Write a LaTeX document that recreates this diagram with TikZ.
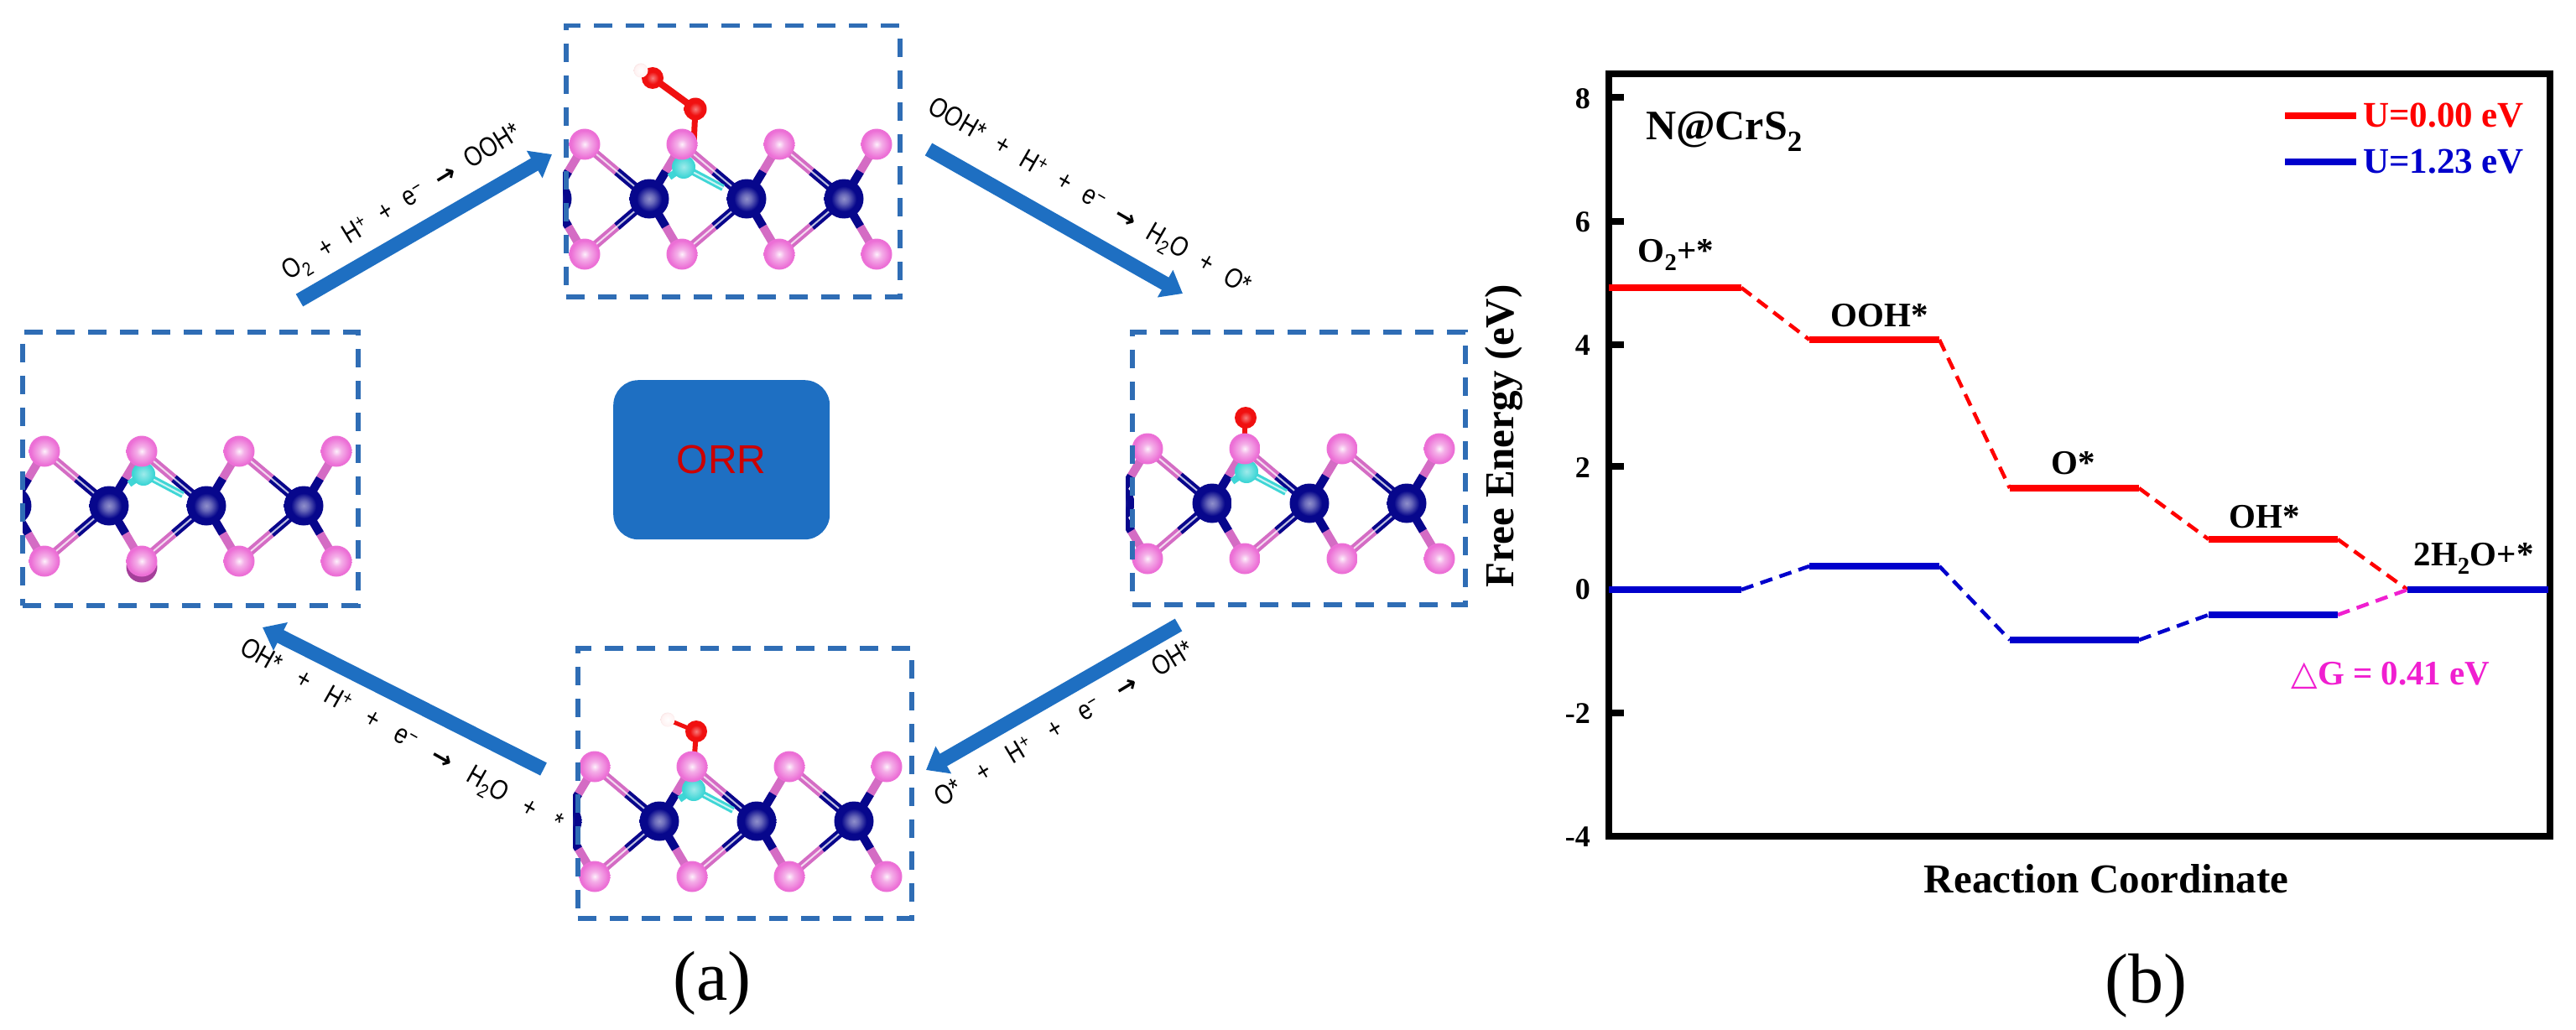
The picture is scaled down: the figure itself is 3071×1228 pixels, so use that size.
\documentclass[tikz,border=0pt]{standalone}
\usepackage{fontspec}
\setmainfont{Liberation Serif}
\newfontfamily\lsans{Liberation Sans}
\newfontfamily\lnarrow[FakeStretch=0.82]{Liberation Sans}
\newfontfamily\djv{DejaVu Sans}
\usetikzlibrary{arrows.meta,calc}
\definecolor{sMain}{HTML}{EC6FD6}
\definecolor{sEdge}{HTML}{8E2F86}
\definecolor{sBond}{HTML}{D46CC4}
\definecolor{crMain}{HTML}{07078C}
\definecolor{crEdge}{HTML}{03034A}
\definecolor{oMain}{HTML}{F01010}
\definecolor{nMain}{HTML}{3FD6D6}
\definecolor{boxBlue}{HTML}{2F6DB5}
\definecolor{arrBlue}{HTML}{1E6FC2}
\definecolor{lvlBlue}{HTML}{0000CC}
\definecolor{lvlMag}{HTML}{F01FD0}
\pgfdeclareradialshading{sball}{\pgfpoint{0bp}{0bp}}{color(0bp)=(white!90!sMain); color(8bp)=(white!45!sMain); color(22bp)=(sMain); color(40bp)=(sMain); color(46bp)=(sMain!70!sEdge); color(50bp)=(sEdge)}
\pgfdeclareradialshading{crball}{\pgfpoint{0bp}{0bp}}{color(0bp)=(white!55!crMain); color(6bp)=(white!40!crMain); color(16bp)=(crMain); color(44bp)=(crMain); color(50bp)=(crEdge)}
\pgfdeclareradialshading{oball}{\pgfpoint{0bp}{0bp}}{color(0bp)=(white!45!oMain); color(14bp)=(oMain); color(44bp)=(oMain); color(50bp)=(oMain!75!black)}
\pgfdeclareradialshading{nball}{\pgfpoint{0bp}{0bp}}{color(0bp)=(white!50!nMain); color(22bp)=(nMain); color(50bp)=(nMain!85!black)}
\pgfdeclareradialshading{hball}{\pgfpoint{0bp}{0bp}}{color(0bp)=(white); color(22bp)=(white!80!pink); color(42bp)=(pink!80!gray); color(50bp)=(brown!60!gray)}
\tikzset{
 sbond/.style={draw=sBond,line width=10pt},
 crbond/.style={draw=crMain,line width=10pt},
 stripe/.style={draw=white,line width=2pt,opacity=.75},
 boxdash/.style={draw=boxBlue,line width=5.5pt,dash pattern=on 22pt off 16pt,minimum width=#1},
 rarrow/.style={draw=arrBlue,line width=17pt,-{Triangle[width=36pt,length=24pt]}},
 rxn/.style={font=\lnarrow\fontsize{33}{35}\selectfont,inner sep=0pt},
 level/.style={line width=8pt},
 dashlvl/.style={line width=4.5pt,dash pattern=on 15pt off 9pt},
 ticklab/.style={font=\bfseries\fontsize{36}{38}\selectfont,inner sep=0pt,anchor=east},
 clab/.style={font=\bfseries\fontsize{41}{44}\selectfont,inner sep=0pt,anchor=base},
 leg/.style={font=\bfseries\fontsize{43}{46}\selectfont,inner sep=0pt,anchor=west},
 axlab/.style={font=\bfseries\fontsize{49}{52}\selectfont,inner sep=0pt},
 panel/.style={font=\fontsize{84}{88}\selectfont,inner sep=0pt},
}
\newcommand{\atomS}[2]{\shade[shading=sball] (#1,#2) circle[radius=18.5];}
\newcommand{\atomCr}[2]{\shade[shading=crball] (#1,#2) circle[radius=23.5];}
\newcommand{\atomO}[3]{\shade[shading=oball] (#1,#2) circle[radius=#3];}
\newcommand{\bondLong}[2]{% Cr x, S x
 \draw[sbond] (#1,237) -- (#2,172); \draw[crbond] (#1,237) -- ($(#1,237)!.5!(#2,172)$);
 \draw[stripe] ($(#1,237)!.2!(#2,172)$) -- ($(#1,237)!.85!(#2,172)$);
 \draw[sbond] (#1,237) -- (#2,303); \draw[crbond] (#1,237) -- ($(#1,237)!.5!(#2,303)$);
 \draw[stripe] ($(#1,237)!.2!(#2,303)$) -- ($(#1,237)!.85!(#2,303)$);}
\newcommand{\bondShort}[2]{%
 \draw[sbond] (#1,237) -- (#2,172); \draw[crbond] (#1,237) -- ($(#1,237)!.5!(#2,172)$);
 \draw[sbond] (#1,237) -- (#2,303); \draw[crbond] (#1,237) -- ($(#1,237)!.5!(#2,303)$);}
\newcommand{\crystal}[3]{% dx, dy, extra drawing
 \begin{scope}[shift={(#1,#2)}]
 \clip (671,140) rectangle (1068,345);
 \bondShort{658}{697}
 \bondLong{774}{697}\bondShort{774}{813}
 \bondLong{890}{813}\bondShort{890}{929}
 \bondLong{1006}{929}\bondShort{1006}{1045}
 \draw[draw=nMain,line width=8pt] (798,211) -- (815,199) -- (862,224);
 \draw[stripe] (824,204) -- (862,224);
 \shade[shading=nball] (815,199) circle[radius=14];
 \foreach \xx in {697,813,929,1045}{\atomS{\xx}{172}}
 #3
 \foreach \xx in {697,813,929,1045}{\atomS{\xx}{303}}
 \foreach \xx in {658,774,890,1006}{\atomCr{\xx}{237}}
 \end{scope}}
\newcommand{\rar}{{\djv\bfseries\fontsize{30}{32}\selectfont →}}
\begin{document}
\begin{tikzpicture}[x=1pt,y=-1pt]
\useasboundingbox (0,0) rectangle (3071,1228);
\fill[white] (0,0) rectangle (3071,1228);
% adsorbates and crystals
\draw[draw=oMain,line width=7pt] (829,130) -- (827,172);
\draw[draw=oMain,line width=8pt] (829,130) -- (777,92);
\crystal{0}{0}{}
\atomO{829}{130}{13.5}\atomO{778}{93}{13}
\shade[shading=hball] (764,84) circle[radius=8.5];
\crystal{-644}{366}{\fill[sEdge!75!sMain] (813,310) circle[radius=18.5];}
\draw[draw=oMain,line width=6pt] (1484,498) -- (1484,535);
\crystal{671}{363}{}
\atomO{1485}{498}{13}
\draw[draw=oMain,line width=6pt] (830,872) -- (827,914);
\draw[draw=oMain,line width=5pt] (830,872) -- (796,858);
\crystal{12}{742}{}
\atomO{830}{872}{13}
\shade[shading=hball] (796,858) circle[radius=8.5];
% dashed frames
\node[boxdash=398pt,minimum height=323pt,inner sep=0pt,anchor=north west] (boxTop) at (672,28) {};
\node[boxdash=400pt,minimum height=326pt,inner sep=0pt,anchor=north west] (boxLeft) at (24,393) {};
\node[boxdash=397pt,minimum height=325pt,inner sep=0pt,anchor=north west] (boxRight) at (1347,393) {};
\node[boxdash=398pt,minimum height=322pt,inner sep=0pt,anchor=north west] (boxBottom) at (686,770) {};
% centre
\node[fill=arrBlue,rounded corners=30pt,minimum width=258pt,minimum height=190pt,inner sep=0pt,anchor=north west,font=\lsans\fontsize{48}{50}\selectfont,text=red!80!black] (orr) at (731,453) {ORR};
% cycle arrows
\coordinate (a1s) at (357,358); \coordinate (a1e) at (658,184);
\coordinate (a2s) at (1107,178); \coordinate (a2e) at (1410,350);
\coordinate (a3s) at (1405,745); \coordinate (a3e) at (1104,918);
\coordinate (a4s) at (648,917); \coordinate (a4e) at (313,748);
\draw[rarrow] (a1s) -- (a1e);
\draw[rarrow] (a2s) -- (a2e);
\draw[rarrow] (a3s) -- (a3e);
\draw[rarrow] (a4s) -- (a4e);
\newcommand{\gapA}{\hspace{18pt}}
\newcommand{\gapB}{\hspace{19pt}}
\newcommand{\gapC}{\hspace{26pt}}
\newcommand{\gapD}{\hspace{24pt}}
\node[rxn,rotate=31.5] (l1) at (480,243) {O\textsubscript{2}\gapA+\gapA H\textsuperscript{+}\gapA+\gapA e\textsuperscript{−}\gapA\rar\gapA OOH*};
\node[rxn,rotate=-30] (l2) at (1298,236) {OOH*\gapB+\gapB H\textsuperscript{+}\gapB+\gapB e\textsuperscript{−}\gapB\rar\gapB H\textsubscript{2}O\gapB+\gapB O*};
\node[rxn,rotate=31] (l3) at (1268,862) {O*\gapC+\gapC H\textsuperscript{+}\gapC+\gapC e\textsuperscript{−}\gapC\rar\gapC OH*};
\node[rxn,rotate=-29.5] (l4) at (478,879) {OH*\gapD+\gapD H\textsuperscript{+}\gapD+\gapD e\textsuperscript{−}\gapD\rar\gapD H\textsubscript{2}O\gapD+\gapD *};
\node[panel] (pa) at (849,1172) {(a)};
% chart
\draw[line width=8pt] (1918,88) rectangle (3040,997);
\foreach \vv in {116,264,411,556,703,850}{\draw[line width=8pt] (1918,\vv) -- ++(18,0);}
\node[ticklab] (t8) at (1896,118) {8};
\node[ticklab] (t6) at (1896,265) {6};
\node[ticklab] (t4) at (1896,412) {4};
\node[ticklab] (t2) at (1896,558) {2};
\node[ticklab] (t0) at (1896,703) {0};
\node[ticklab] (tm2) at (1896,851) {-2};
\node[ticklab] (tm4) at (1896,998) {-4};
% levels
\coordinate (r1a) at (1918,343); \coordinate (r1b) at (2076,343);
\coordinate (r2a) at (2157,405); \coordinate (r2b) at (2312,405);
\coordinate (r3a) at (2396,582); \coordinate (r3b) at (2550,582);
\coordinate (r4a) at (2633,643); \coordinate (r4b) at (2787,643);
\coordinate (z5a) at (2870,703); \coordinate (z5b) at (3038,703);
\coordinate (b1a) at (1918,703); \coordinate (b1b) at (2076,703);
\coordinate (b2a) at (2157,675); \coordinate (b2b) at (2312,675);
\coordinate (b3a) at (2396,763); \coordinate (b3b) at (2550,763);
\coordinate (b4a) at (2633,733); \coordinate (b4b) at (2787,733);
\foreach \pa/\pb in {r1b/r2a,r2b/r3a,r3b/r4a,r4b/z5a}{\draw[dashlvl,red] (\pa) -- (\pb);}
\foreach \pa/\pb in {r1a/r1b,r2a/r2b,r3a/r3b,r4a/r4b}{\draw[level,red] (\pa) -- (\pb);}
\foreach \pa/\pb in {b1b/b2a,b2b/b3a,b3b/b4a}{\draw[dashlvl,lvlBlue] (\pa) -- (\pb);}
\draw[dashlvl,lvlMag] (b4b) -- (z5a);
\foreach \pa/\pb in {b1a/b1b,b2a/b2b,b3a/b3b,b4a/b4b,z5a/z5b}{\draw[level,lvlBlue] (\pa) -- (\pb);}
% legend
\coordinate (lr1) at (2724,138); \coordinate (lr2) at (2809,138);
\coordinate (lb1) at (2724,193); \coordinate (lb2) at (2809,193);
\draw[level,red] (lr1) -- (lr2);
\draw[level,lvlBlue] (lb1) -- (lb2);
\node[leg,text=red] (legr) at (2817,138) {U=0.00 eV};
\node[leg,text=lvlBlue] (legb) at (2817,193) {U=1.23 eV};
\node[font=\bfseries\fontsize{50}{54}\selectfont,inner sep=0pt,anchor=base west] (title) at (1962,166) {N@CrS\textsubscript{2}};
\node[clab] (c1) at (1998,312) {O\textsubscript{2}+*};
\node[clab] (c2) at (2241,389) {OOH*};
\node[clab] (c3) at (2472,565) {O*};
\node[clab] (c4) at (2700,629) {OH*};
\node[clab] (c5) at (2949,674) {2H\textsubscript{2}O+*};
\node[font=\bfseries\fontsize{41}{44}\selectfont,inner sep=0pt,anchor=base,text=lvlMag] (dg) at (2850,816) {{\djv\mdseries △}G = 0.41 eV};
\node[axlab] (xl) at (2511,1048) {Reaction Coordinate};
\node[axlab,rotate=90] (yl) at (1793,520) {Free Energy (eV)};
\node[panel] (pb) at (2558,1175) {(b)};
\end{tikzpicture}
\end{document}
